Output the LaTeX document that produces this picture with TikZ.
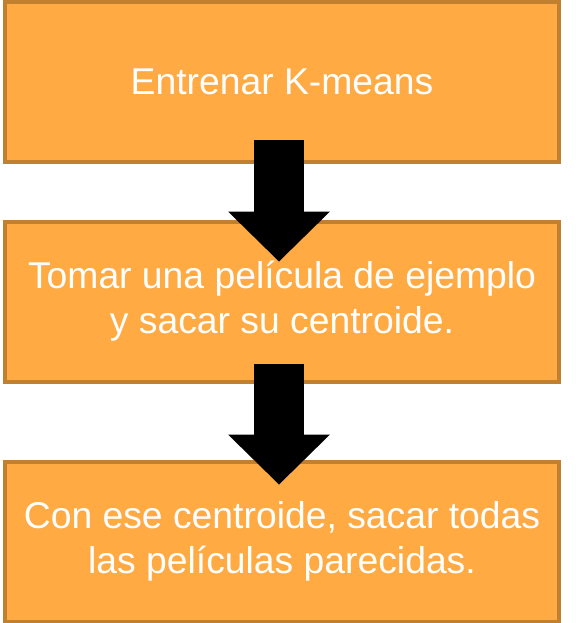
\documentclass[tikz,border=0pt]{standalone}
\usepackage{fontspec}
\setmainfont{Liberation Sans}
\usetikzlibrary{arrows.meta}
\usetikzlibrary{positioning}
\definecolor{boxfill}{RGB}{255,170,66}
\definecolor{boxline}{RGB}{192,128,48}
\tikzset{stepbox/.style = {draw=boxline, fill=boxfill, line width=4pt, outer sep=0,
                           minimum width=554pt, minimum height=160pt, align=center,
                           text=white, font=\fontsize{37.3}{45}\selectfont}}
\tikzset{bigarrow/.style = {line width=50pt,
                            -{Triangle[width=102pt, length=50pt, line width=0pt]}}}

\begin{document}
\begin{tikzpicture}[x=1pt, y=-1pt]
    \useasboundingbox (0, 0) rectangle (575, 623);

    \node [stepbox] (train) at (282, 82) {Entrenar K-means};
    \node [stepbox] (pick) at (282, 301.5) {Tomar una película de ejemplo\\y sacar su centroide.};
    \node [stepbox] (similar) at (282, 541.5) {Con ese centroide, sacar todas\\las películas parecidas.};

    \draw [bigarrow] ([xshift=-3pt, yshift=22pt]train.south) -- ([xshift=-3pt, yshift=-40pt]pick.north);
    \draw [bigarrow] ([xshift=-3pt, yshift=18pt]pick.south) -- ([xshift=-3pt, yshift=-23pt]similar.north);
\end{tikzpicture}
\end{document}
